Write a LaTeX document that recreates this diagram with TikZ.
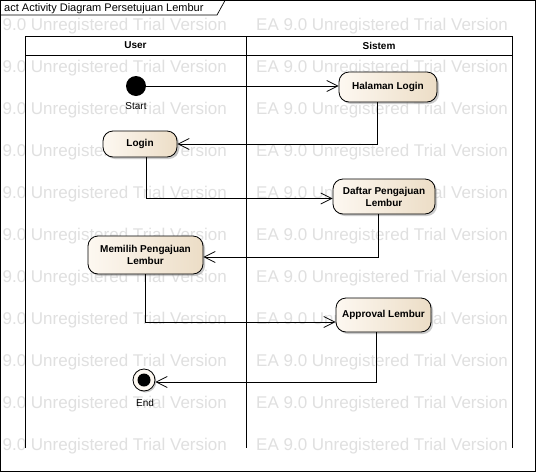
\documentclass[tikz,border=0pt]{standalone}
\usepackage{fontspec}
\setmainfont{Liberation Sans}
\usetikzlibrary{arrows.meta,shadows}
\definecolor{nodeL}{RGB}{253,248,241}
\definecolor{nodeR}{RGB}{236,221,198}
\definecolor{wm}{RGB}{224,224,224}
\begin{document}
\begin{tikzpicture}[x=1pt,y=-1pt,
  act/.style={draw=black, line width=0.8pt, rounded corners=10pt, left color=nodeL, right color=nodeR,
    font=\fontsize{10}{12}\selectfont\bfseries, align=center, inner sep=0pt,
    drop shadow={shadow xshift=2pt, shadow yshift=-2pt, fill=black!40, opacity=0.5}},
  flow/.style={draw, line width=0.8pt, -{Straight Barb[length=11pt,width=11pt,line width=0.8pt]}},
  lbl/.style={font=\fontsize{10}{12}\selectfont, inner sep=0pt},
  hdr/.style={font=\fontsize{10}{12}\selectfont\bfseries, inner sep=0pt},
  wmark/.style={text=wm, font=\fontsize{17}{17}\selectfont, anchor=west, inner sep=0pt}
]
\useasboundingbox (0,0) rectangle (536,472);
\fill[white] (0,0) rectangle (536,472);
% watermark
\begin{scope}
\clip (0,0) rectangle (536,472);
\foreach \r in {0,...,10}{
  \node[wmark] (wa\r) at (-25,{26+42*\r}) {EA 9.0 Unregistered Trial Version};
  \node[wmark] (wb\r) at (256,{26+42*\r}) {EA 9.0 Unregistered Trial Version};
}
\end{scope}
% frame
\draw[line width=0.7pt] (0.5,0.5) rectangle (535.5,471.5);
\draw[line width=0.7pt] (0.5,15) -- (217,15) -- (225,0.5);
\node[anchor=west, font=\fontsize{11}{13}\selectfont, inner sep=0pt] (title) at (4,8.5) {act Activity Diagram Persetujuan Lembur};
% swimlanes
\draw[line width=0.8pt] (25,448) -- (25,36) -- (512,36) -- (512,448);
\draw[line width=0.8pt] (25,55) -- (512,55);
\draw[line width=0.8pt] (246,36) -- (246,448);
\node[hdr] (hU) at (135.5,45.5) {User};
\node[hdr] (hS) at (379,45.5) {Sistem};
% nodes
\node[circle, fill=black, minimum size=20pt, inner sep=0pt] (start) at (136,86) {};
\node[lbl] (startlbl) at (136,106) {Start};
\node[act, minimum width=98pt, minimum height=30pt] (hl) at (388,87) {Halaman Login};
\node[act, minimum width=74pt, minimum height=26pt] (login) at (140,144) {Login};
\node[act, minimum width=102pt, minimum height=35pt] (daftar) at (384,196.5) {Daftar Pengajuan\\Lembur};
\node[act, minimum width=115pt, minimum height=38pt] (memilih) at (145.5,255) {Memilih Pengajuan\\Lembur};
\node[act, minimum width=95pt, minimum height=34pt] (approval) at (383.5,315) {Approval Lembur};
\node[circle, draw=black, line width=0.8pt, fill=nodeL, minimum size=22pt, inner sep=0pt,
  drop shadow={shadow xshift=1.5pt, shadow yshift=-1.5pt, fill=black!40, opacity=0.5}] (end) at (144,380) {};
\node[circle, fill=black, minimum size=13pt, inner sep=0pt] (endin) at (end) {};
\node[lbl] (endlbl) at (145,403) {End};
% flows
\draw[flow] (start) -- (hl.west |- start);
\draw[flow] ([xshift=-11pt]hl.south) |- (login.east);
\draw[flow] ([xshift=6pt]login.south) |- ([yshift=-2pt]daftar.west);
\draw[flow] ([xshift=-6pt]daftar.south) |- ([yshift=-2pt]memilih.east);
\draw[flow] (memilih.south) |- ([yshift=-7pt]approval.west);
\draw[flow] ([xshift=-7pt]approval.south) |- ([yshift=-2pt]end.east);
\end{tikzpicture}
\end{document}
